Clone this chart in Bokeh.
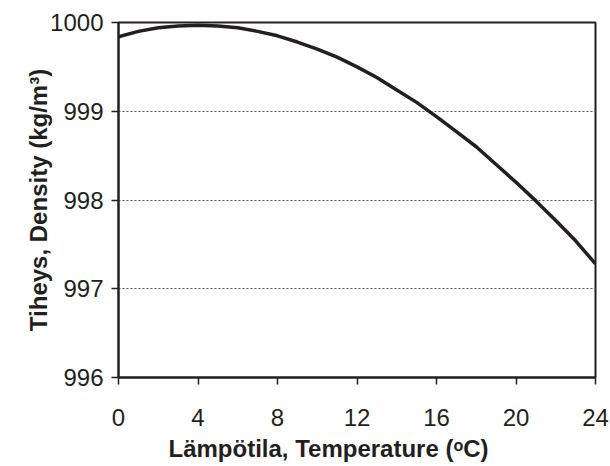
from bokeh.plotting import figure
from bokeh.models import FixedTicker, Title
from bokeh.embed import file_html
from bokeh.resources import INLINE

# Density of water between 0 and 24 degrees Celsius
temperature_c = [0, 1, 2, 3, 4, 5, 6, 7, 8, 9, 10, 11, 12,
                 13, 14, 15, 16, 17, 18, 19, 20, 21, 22, 23, 24]
density_kg_m3 = [999.84, 999.90, 999.94, 999.96, 999.97, 999.96, 999.94, 999.90,
                 999.85, 999.78, 999.70, 999.61, 999.50, 999.38, 999.24, 999.10,
                 998.94, 998.77, 998.60, 998.40, 998.20, 997.99, 997.77, 997.54,
                 997.28]
x_ticks = [0, 4, 8, 12, 16, 20, 24]
y_ticks = [996, 997, 998, 999, 1000]
x_title = "Lämpötila, Temperature (ᵒC)"
y_title = "Tiheys, Density (kg/m³)"

INK = "#231f20"
FONT = "Liberation Sans"

p = figure(width=610, height=466, output_backend="svg", toolbar_location=None,
           x_range=(0, 24), y_range=(996, 1000),
           min_border_left=118, min_border_right=15,
           min_border_top=22, min_border_bottom=88)

p.outline_line_color = INK
p.outline_line_width = 2
p.background_fill_color = "white"
p.border_fill_color = "white"

for ax in (p.xaxis[0], p.yaxis[0]):
    ax.axis_line_color = INK
    ax.axis_line_width = 2
    ax.major_tick_line_color = INK
    ax.major_tick_line_width = 1.5
    ax.major_tick_out = 7
    ax.major_tick_in = 0
    ax.minor_tick_line_color = None
    ax.major_label_text_font = FONT
    ax.major_label_text_font_size = "24px"
    ax.major_label_text_color = INK

p.xaxis.ticker = FixedTicker(ticks=x_ticks)
p.yaxis.ticker = FixedTicker(ticks=y_ticks)
p.xaxis.major_label_standoff = 24
p.yaxis.major_label_standoff = 8

# Vertical title on the density axis
p.yaxis.axis_label = y_title
p.yaxis.axis_label_text_font = FONT
p.yaxis.axis_label_text_font_style = "bold"
p.yaxis.axis_label_text_font_size = "24px"
p.yaxis.axis_label_text_color = INK
p.yaxis.axis_label_standoff = -5

p.xgrid.grid_line_color = None
p.ygrid.ticker = FixedTicker(ticks=[997, 998, 999])
p.ygrid.grid_line_color = "#555555"
p.ygrid.grid_line_width = 1
p.ygrid.grid_line_dash = "2 2"

p.line(temperature_c, density_kg_m3, line_color=INK, line_width=3.5)

# Temperature title under the axis
p.add_layout(Title(text=x_title, align="left", offset=50, standoff=9,
                   vertical_align="bottom",
                   text_font=FONT, text_font_style="bold", text_font_size="24px",
                   text_color=INK), "below")

open("out.html", "w").write(file_html(p, INLINE))
